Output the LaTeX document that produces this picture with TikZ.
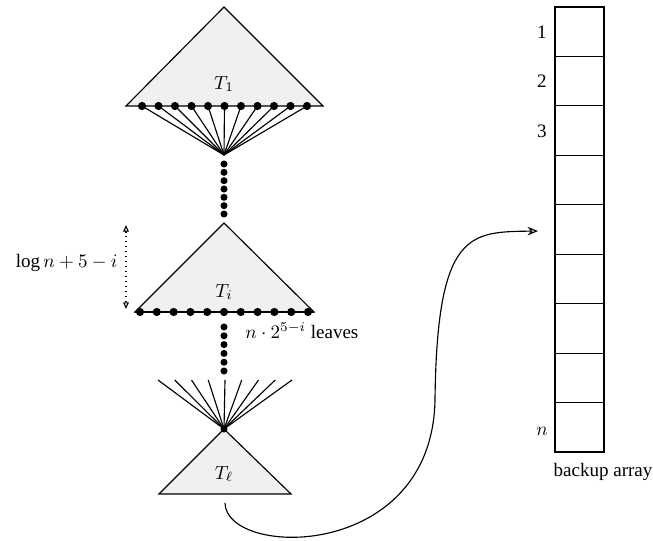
\documentclass[tikz,border=0pt]{standalone}
\usepackage{fontspec}
\setmainfont{Liberation Serif}
\usetikzlibrary{arrows.meta}
\begin{document}
\begin{tikzpicture}[x=0.525pt,y=-0.525pt,line width=0.6pt,
  tri/.style={draw=black,fill=black!6,line join=miter},
  leaf/.style={circle,fill=black,inner sep=0pt,minimum size=4.3pt},
  cdot/.style={circle,fill=black,inner sep=0pt,minimum size=3.7pt},
  cell/.style={draw=black,inner sep=0pt,outer sep=0pt,minimum width=25.7pt,minimum height=25.96pt},
  lbl/.style={inner sep=1pt}]
\useasboundingbox (0,0) rectangle (653,541);

% ---- T1 ----
\coordinate (t1a) at (224,7);
\coordinate (t1l) at (126,106);
\coordinate (t1r) at (323,106);
\draw[tri] (t1a) -- (t1l) -- (t1r) -- cycle;
\node[lbl] (lab1) at (224,84) {$T_1$};
\coordinate (f1) at (224,155);
\foreach \i in {0,...,10} {
  \coordinate (a\i) at ({142+16.5*\i},106);
  \draw (a\i) -- (f1);
}
\foreach \i in {0,...,10} \node[leaf] (la\i) at (a\i) {};

% dots between T1 and Ti
\foreach \j in {0,...,6} \node[cdot] (d\j) at (224,{164+8.33*\j}) {};

% ---- Ti ----
\coordinate (tia) at (224,223);
\coordinate (til) at (135,312);
\coordinate (tir) at (314,312);
\draw[tri] (tia) -- (til) -- (tir) -- cycle;
\draw[line width=1.1pt] (til) -- (tir);
\node[lbl] (labi) at (224,292) {$T_i$};
\foreach \i in {0,...,10} \node[leaf] (b\i) at ({140+16.8*\i},312) {};

% height arrow
\coordinate (ht) at (126,225);
\coordinate (hb) at (126,309);
\draw[dotted,{Triangle[open,length=3.5pt,width=3pt]}-{Triangle[open,length=3.5pt,width=3pt]}] (ht) -- (hb);
\node[lbl,anchor=east] (hl) at (120,263) {$\log n+5-i$};

% leaves label
\node[lbl,anchor=west] (ll) at (243,331) {$n\cdot 2^{5-i}$ leaves};

% dots between Ti and Tl
\foreach \j in {0,...,5} \node[cdot] (e\j) at (224,{327+8.8*\j}) {};

% ---- T_ell ----
\coordinate (f3) at (224,429);
\coordinate (tll) at (159,494);
\coordinate (tlr) at (291,494);
\draw[tri] (f3) -- (tll) -- (tlr) -- cycle;
\foreach \k in {0,...,8} {
  \coordinate (g\k) at ({158+16.75*\k},380);
  \draw (g\k) -- (f3);
}
\node[cdot] (f3dot) at (f3) {};
\node[lbl] (labl) at (224,474) {$T_\ell$};

% ---- backup array ----
\foreach \k in {1,...,9} \node[cell] (c\k) at (579.5,{7+49.44*(\k-0.5)}) {};
\node[lbl] (n1) at (542,32) {1};
\node[lbl] (n2) at (542,81) {2};
\node[lbl] (n3) at (542,131) {3};
\node[lbl] (nn) at (542,431) {$n$};
\node[lbl] (ba) at (603,472) {backup array};

% ---- curve ----
\coordinate (cs) at (225,503);
\coordinate (cm) at (435,400);
\coordinate (ce) at (538,231);
\draw[-{Stealth[open,length=5.5pt,width=4.5pt]}] (cs) .. controls (226,558) and (432,562) .. (cm)
  .. controls (437,230) and (470,232) .. (ce);
\end{tikzpicture}
\end{document}
